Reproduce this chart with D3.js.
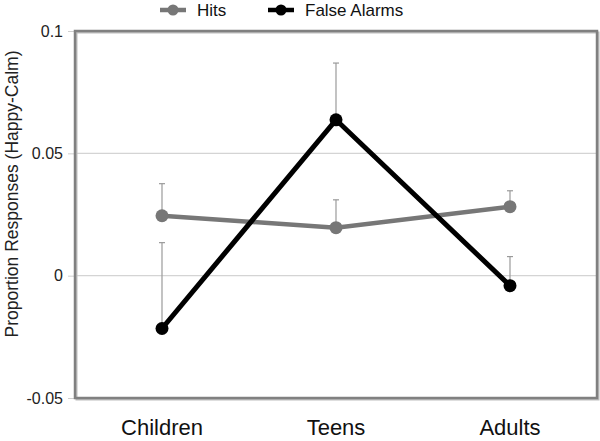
<!DOCTYPE html>
<html>
<head>
<meta charset="utf-8">
<script src="https://cdn.jsdelivr.net/npm/d3@7"></script>
<style>
  body { margin: 0; background: #fff; }
  text { font-family: "Liberation Sans", Arial, sans-serif; }
</style>
</head>
<body>
<svg id="drawing_region"></svg>
<script>
// data
var groups = ["Children", "Teens", "Adults"];
var hits = [0.0245, 0.0196, 0.0282];
var hitsErr = [0.0131, 0.0114, 0.0065];
var falseAlarms = [-0.0216, 0.0637, -0.0041];
var falseAlarmsErr = [0.0351, 0.0232, 0.0119];
var yTicks = [-0.05, 0, 0.05, 0.1];
var yTickLabels = ["-0.05", "0", "0.05", "0.1"];

var series = [
    { name: "Hits", values: hits, err: hitsErr, color: "#777777" },
    { name: "False Alarms", values: falseAlarms, err: falseAlarmsErr, color: "#000000" }
];

var config = {
    width: 600,
    height: 441,
    margin: { top: 31, right: 3, bottom: 43, left: 75 }
};

var svg = d3.select('#drawing_region')
    .attr('width', config.width)
    .attr('height', config.height);

var inner_width = config.width - config.margin.left - config.margin.right;
var inner_height = config.height - config.margin.top - config.margin.bottom;

var chart = svg.append('g')
    .attr('transform', `translate(${config.margin.left}, ${config.margin.top})`);

var xscale = d3.scaleBand()
    .domain(groups)
    .range([0, inner_width]);

var yscale = d3.scaleLinear()
    .domain([-0.05, 0.1])
    .range([inner_height, 0]);

// gridlines
chart.selectAll('.grid').data(yTicks.filter(d => d > -0.05 && d < 0.1)).join('line')
    .attr('class', 'grid')
    .attr('x1', 0).attr('x2', inner_width)
    .attr('y1', d => yscale(d)).attr('y2', d => yscale(d))
    .attr('stroke', '#d4d4d4')
    .attr('stroke-width', 1.2);

// y axis
var yaxis = d3.axisLeft(yscale)
    .tickValues(yTicks)
    .tickFormat((d, i) => yTickLabels[i])
    .tickSize(7)
    .tickPadding(5)
    .tickSizeOuter(0);

var yaxis_group = chart.append('g').call(yaxis);
yaxis_group.select('.domain').remove();
yaxis_group.selectAll('line').attr('stroke', '#cfcfcf');
yaxis_group.selectAll('text')
    .attr('font-size', 16)
    .attr('fill', '#222');

// plot frame with a soft shadow
chart.append('rect')
    .attr('x', 1.5).attr('y', 1.5)
    .attr('width', inner_width).attr('height', inner_height)
    .attr('fill', 'none')
    .attr('stroke', '#bdbdbd')
    .attr('stroke-width', 2);
chart.append('rect')
    .attr('x', 0).attr('y', 0)
    .attr('width', inner_width).attr('height', inner_height)
    .attr('fill', 'none')
    .attr('stroke', '#808080')
    .attr('stroke-width', 2.5);

// x labels
chart.selectAll('.xlab').data(groups).join('text')
    .attr('class', 'xlab')
    .attr('x', d => xscale(d) + xscale.bandwidth() / 2)
    .attr('y', inner_height + 37)
    .attr('text-anchor', 'middle')
    .attr('font-size', 22)
    .attr('fill', '#111')
    .text(d => d);

// y title
svg.append('text')
    .attr('transform', `translate(18, ${config.margin.top + 163}) rotate(-90)`)
    .attr('text-anchor', 'middle')
    .attr('font-size', 17.5)
    .attr('fill', '#222')
    .text('Proportion Responses (Happy-Calm)');

var cx = d => xscale(d) + xscale.bandwidth() / 2;

// error bars (upper only)
series.forEach(s => {
    var g = chart.append('g');
    groups.forEach((grp, i) => {
        var x = cx(grp);
        var y0 = yscale(s.values[i]);
        var y1 = yscale(s.values[i] + s.err[i]);
        g.append('line')
            .attr('x1', x).attr('x2', x).attr('y1', y0).attr('y2', y1)
            .attr('stroke', '#9a9a9a').attr('stroke-width', 1.2);
        g.append('line')
            .attr('x1', x - 3).attr('x2', x + 3).attr('y1', y1).attr('y2', y1)
            .attr('stroke', '#9a9a9a').attr('stroke-width', 1.2);
    });
});

var line = d3.line()
    .x((d, i) => cx(groups[i]))
    .y(d => yscale(d));

series.forEach(s => {
    chart.append('path')
        .datum(s.values)
        .attr('fill', 'none')
        .attr('stroke', s.color)
        .attr('stroke-width', s.name == "Hits" ? 4.5 : 5)
        .attr('d', line);
    chart.selectAll(null).data(s.values).join('circle')
        .attr('cx', (d, i) => cx(groups[i]))
        .attr('cy', d => yscale(d))
        .attr('r', 6.5)
        .attr('fill', s.color);
});

// legend
var legendX = [160, 268];
var legend = svg.append('g');
series.forEach((s, i) => {
    var lg = legend.append('g').attr('transform', `translate(${legendX[i]}, 10)`);
    lg.append('line')
        .attr('x1', 0).attr('x2', 26).attr('y1', 0).attr('y2', 0)
        .attr('stroke', s.color).attr('stroke-width', 4.5);
    lg.append('circle')
        .attr('cx', 13).attr('cy', 0).attr('r', 5.5)
        .attr('fill', s.color);
    lg.append('text')
        .attr('x', 37).attr('y', 6)
        .attr('font-size', 17)
        .attr('fill', '#111')
        .text(s.name);
});
</script>
</body>
</html>
